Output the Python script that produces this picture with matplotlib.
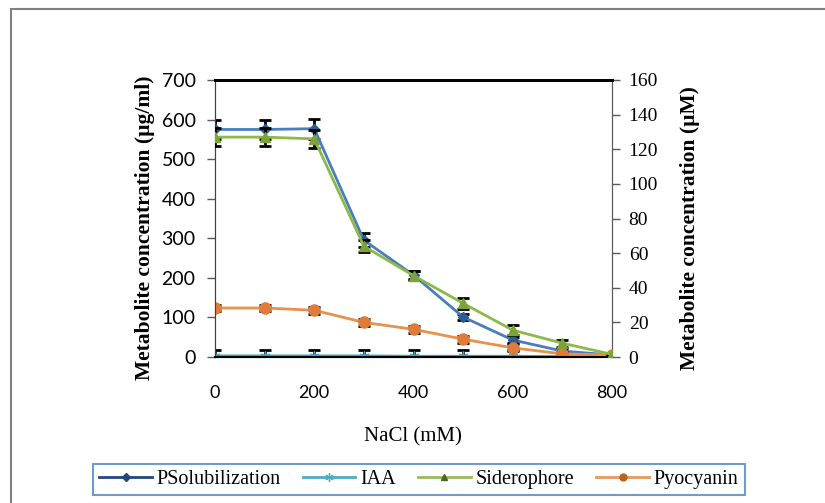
import matplotlib
matplotlib.use('Agg')
import matplotlib.pyplot as plt
from matplotlib.patches import Rectangle
from matplotlib.lines import Line2D

# NaCl levels (mM)
nacl = [0, 100, 200, 300, 400, 500, 600, 700, 800]

# left axis (ug/ml)
p_sol = [575, 575, 577, 295, 207, 101, 43, 15, 5]
p_sol_err = [25, 25, 25, 18, 10, 8, 8, 5, 3]
iaa = [3, 3, 3, 3, 2, 2, 2, 1, 1]
iaa_err = [15, 15, 15, 15, 15, 15, 15, 0, 0]

# right axis (uM)
sidero = [127, 127, 126, 64, 47, 31, 15.5, 8, 1.5]
sidero_err = [5, 5, 5, 3.5, 2.5, 3, 3, 2, 0.5]
pyo = [28.3, 28.3, 27, 20, 16, 10.3, 5.3, 1.8, 1.2]
pyo_err = [2, 2, 2, 2, 2, 2, 2, 1, 0.5]

labels = ['PSolubilization', 'IAA', 'Siderophore', 'Pyocyanin']

serif = 'Liberation Serif'
sans = 'Lato'

W, H = 825, 503
fig = plt.figure(figsize=(W / 100, H / 100), dpi=100)

# outer frame, runs off the right and bottom edges
fig.patches.append(Rectangle((11 / W, -0.2), 1.2, 1.2 - 9 / H, transform=fig.transFigure,
                             fill=False, edgecolor='#808080', lw=1.5, clip_on=False))

ax = fig.add_axes([215 / W, 1 - 357 / H, (612 - 215) / W, (357 - 80) / H])
ax2 = ax.twinx()

eb = dict(ecolor='black', elinewidth=2, capsize=4.5, capthick=2)

ax.errorbar(nacl, iaa, yerr=iaa_err, color='#4BACC6', lw=2, marker=(6, 2, 0), ms=7,
            mec='#4BACC6', zorder=2, **eb)
ax.errorbar(nacl, p_sol, yerr=p_sol_err, color='#4A7EBB', lw=2, marker='D', ms=5,
            mfc='#2C5D9A', mec='#2C5D9A', zorder=3, **eb)
ax2.errorbar(nacl, sidero, yerr=sidero_err, color='#8DB84A', lw=2, marker='^', ms=7,
             mfc='#7BA33A', mec='#7BA33A', zorder=3, **eb)
ax2.errorbar(nacl, pyo, yerr=pyo_err, color='#E8904C', lw=2, marker='o', ms=8,
             mfc='#E07B39', mec='#E07B39', zorder=2, **eb)

ax.set_xlim(0, 800)
ax.set_ylim(0, 700)
ax2.set_ylim(0, 160)
ax.set_xticks([0, 200, 400, 600, 800])
ax.set_yticks(range(0, 701, 100))
ax2.set_yticks(range(0, 161, 20))

ax.tick_params(axis='x', length=0, pad=20, labelsize=13)
ax.tick_params(axis='y', direction='out', length=6, width=1, color='#595959', labelsize=14, pad=8)
ax2.tick_params(axis='y', direction='out', length=6, width=1, color='#595959', labelsize=14, pad=6)
for t in ax.get_xticklabels() + ax.get_yticklabels():
    t.set_fontfamily(sans)
for t in ax2.get_yticklabels():
    t.set_fontfamily(serif)

for a in (ax, ax2):
    a.spines['left'].set_color('#404040')
    a.spines['right'].set_color('#595959')
    a.spines['bottom'].set_color('black')
    a.spines['bottom'].set_linewidth(1.5)
    a.spines['top'].set_color('black')
    a.spines['top'].set_linewidth(2)
    a.patch.set_visible(False)

fig.text(145 / W, 1 - 228 / H, 'Metabolite concentration (µg/ml)', rotation=90, ha='center', va='center',
         fontsize=15.5, fontweight='bold', family=serif)
fig.text(690 / W, 1 - 228 / H, 'Metabolite concentration (µM)', rotation=90, ha='center', va='center',
         fontsize=15.5, fontweight='bold', family=serif)
fig.text(413 / W, 1 - 437 / H, 'NaCl (mM)', ha='center', va='center', fontsize=15, family=serif)

handles = [
    Line2D([], [], color='#1F497D', lw=2, marker='D', ms=4),
    Line2D([], [], color='#4BACC6', lw=2, marker=(6, 2, 0), ms=6),
    Line2D([], [], color='#9BBB59', lw=2, marker='^', ms=5, mfc='#4F6228', mec='#4F6228'),
    Line2D([], [], color='#E69A55', lw=2, marker='o', ms=5, mfc='#B8651A', mec='#B8651A'),
]
leg = fig.legend(handles, labels, loc='center', bbox_to_anchor=(419 / W, 1 - 479.5 / H), ncol=4,
                 frameon=True, fancybox=False, prop={'family': serif, 'size': 14.5},
                 handlelength=2.6, handletextpad=0.25, columnspacing=1.1, borderpad=0.3,
                 borderaxespad=0)
leg.get_frame().set_edgecolor('#4F81BD')
leg.get_frame().set_linewidth(1.5)

fig.savefig('out.png', dpi=100)
